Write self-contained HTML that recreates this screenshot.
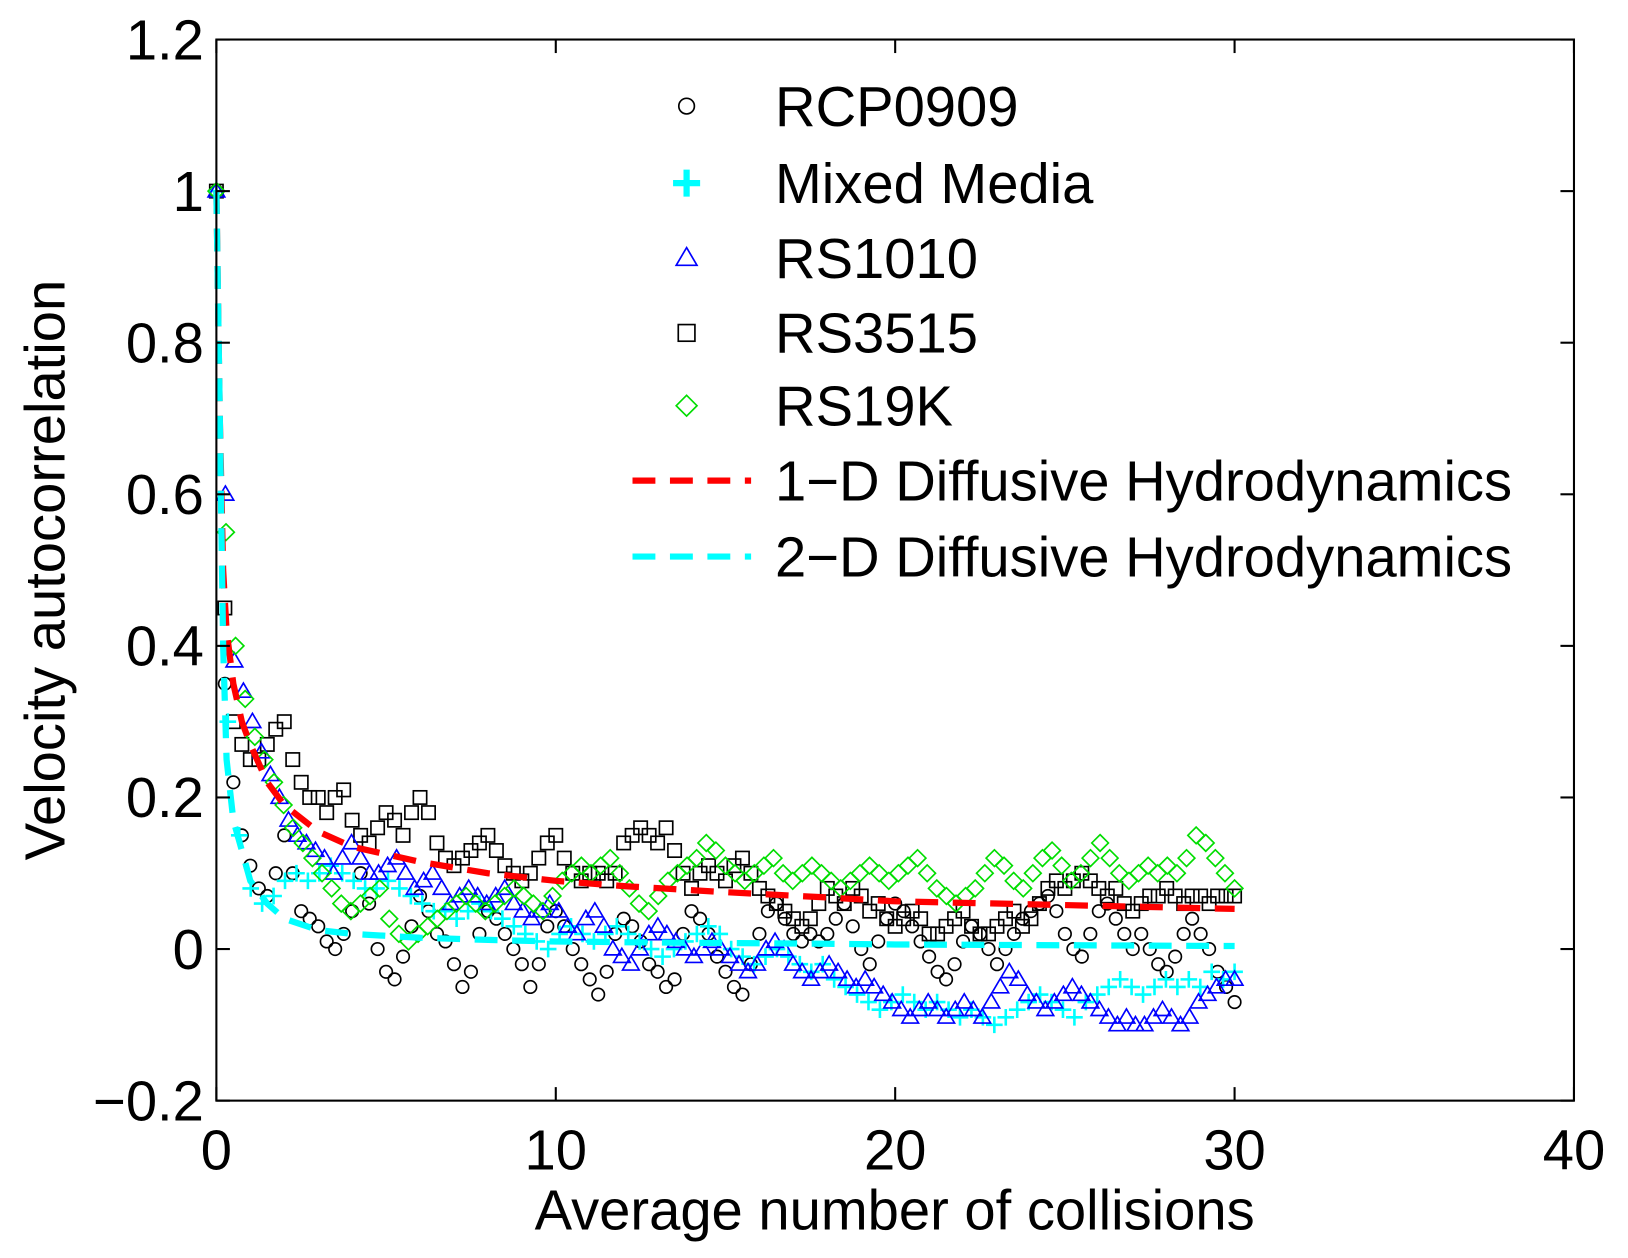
<!DOCTYPE html>
<html><head><meta charset="utf-8"><style>
html,body{margin:0;padding:0;background:#fff;}
svg{display:block;font-family:"Liberation Sans",Arial,sans-serif;}
</style></head><body>
<svg id="chart" width="1628" height="1258" viewBox="0 0 1628 1258" xmlns="http://www.w3.org/2000/svg">
<g transform="scale(1.0403)">
<g id="marks"></g>
<g id="axes"></g>
<g id="legend"></g>
</g>
</svg>
<script>
const xTicks=[0,10,20,30,40];
const yTicks=[-0.2,0,0.2,0.4,0.6,0.8,1,1.2];
const yTickLabels=["\u22120.2","0","0.2","0.4","0.6","0.8","1","1.2"];
const rcp0909=[1,0.35,0.22,0.15,0.11,0.08,0.07,0.1,0.15,0.1,0.05,0.04,0.03,0.01,0.0,0.02,0.05,0.1,0.06,0.0,-0.03,-0.04,-0.01,0.03,0.07,0.05,0.02,0.01,-0.02,-0.05,-0.03,0.02,0.05,0.04,0.02,0.0,-0.02,-0.05,-0.02,0.03,0.05,0.03,0.0,-0.02,-0.04,-0.06,-0.03,0.02,0.04,0.03,0.01,-0.02,-0.03,-0.05,-0.04,0.02,0.05,0.04,0.02,-0.01,-0.03,-0.05,-0.06,-0.02,0.02,0.05,0.06,0.04,0.02,0.01,0.02,0.01,0.02,0.04,0.06,0.03,0.0,-0.02,0.01,0.04,0.06,0.05,0.03,0.01,-0.01,-0.03,-0.04,-0.02,0.01,0.03,0.02,0.0,-0.02,0.0,0.02,0.04,0.05,0.06,0.07,0.05,0.02,0.0,-0.01,0.02,0.05,0.06,0.04,0.02,0.0,0.02,0.0,-0.02,-0.03,-0.01,0.02,0.04,0.02,0.0,-0.03,-0.05,-0.07];
const rs3515=[1,0.45,0.3,0.27,0.25,0.25,0.27,0.29,0.3,0.25,0.22,0.2,0.2,0.18,0.2,0.21,0.17,0.15,0.14,0.16,0.18,0.17,0.15,0.18,0.2,0.18,0.14,0.12,0.11,0.12,0.13,0.14,0.15,0.13,0.11,0.1,0.09,0.1,0.12,0.14,0.15,0.12,0.1,0.09,0.1,0.1,0.09,0.1,0.14,0.15,0.16,0.15,0.14,0.16,0.13,0.1,0.08,0.1,0.11,0.1,0.09,0.11,0.12,0.1,0.08,0.07,0.06,0.05,0.04,0.03,0.04,0.06,0.08,0.07,0.06,0.08,0.07,0.05,0.06,0.04,0.03,0.04,0.05,0.04,0.02,0.02,0.03,0.04,0.05,0.03,0.02,0.02,0.03,0.04,0.05,0.03,0.04,0.06,0.08,0.09,0.08,0.09,0.1,0.09,0.08,0.07,0.08,0.06,0.05,0.06,0.07,0.07,0.08,0.07,0.06,0.07,0.07,0.06,0.07,0.07,0.07];
const rs1010=[1,0.6,0.38,0.34,0.3,0.26,0.23,0.2,0.17,0.15,0.14,0.13,0.12,0.1,0.12,0.14,0.12,0.1,0.1,0.11,0.12,0.1,0.08,0.09,0.1,0.08,0.06,0.07,0.08,0.07,0.06,0.07,0.08,0.06,0.05,0.04,0.05,0.06,0.05,0.03,0.02,0.04,0.05,0.03,0.0,-0.01,-0.02,0.0,0.02,0.03,0.02,0.01,0.0,-0.01,0.0,0.01,0.0,-0.01,-0.02,-0.03,-0.02,0.0,0.01,0.0,-0.02,-0.03,-0.04,-0.03,-0.02,-0.03,-0.04,-0.05,-0.04,-0.05,-0.06,-0.07,-0.08,-0.09,-0.08,-0.07,-0.08,-0.09,-0.08,-0.07,-0.08,-0.09,-0.07,-0.05,-0.03,-0.04,-0.06,-0.07,-0.08,-0.07,-0.06,-0.05,-0.06,-0.07,-0.08,-0.09,-0.1,-0.09,-0.1,-0.1,-0.09,-0.08,-0.09,-0.1,-0.09,-0.07,-0.06,-0.05,-0.04,-0.04];
const mixedMedia=[1,0.3,0.15,0.08,0.06,0.07,0.09,0.1,0.09,0.1,0.11,0.1,0.09,0.08,0.08,0.09,0.08,0.07,0.06,0.05,0.05,0.04,0.05,0.06,0.05,0.04,0.03,0.02,0.01,0.0,0.02,0.03,0.02,0.01,0.02,0.03,0.02,0.01,0.0,-0.01,0.0,0.01,0.02,0.03,0.02,0.0,-0.01,-0.02,-0.01,0.0,-0.01,-0.02,-0.03,-0.02,-0.04,-0.05,-0.06,-0.07,-0.08,-0.07,-0.06,-0.07,-0.08,-0.07,-0.08,-0.09,-0.08,-0.09,-0.1,-0.09,-0.08,-0.07,-0.06,-0.07,-0.08,-0.09,-0.07,-0.06,-0.05,-0.04,-0.05,-0.06,-0.05,-0.04,-0.05,-0.04,-0.05,-0.03,-0.04,-0.03];
const rs19k=[1,0.55,0.4,0.33,0.28,0.25,0.22,0.19,0.16,0.14,0.12,0.1,0.08,0.06,0.05,0.06,0.07,0.08,0.04,0.02,0.01,0.02,0.03,0.04,0.05,0.06,0.07,0.06,0.05,0.06,0.07,0.08,0.07,0.06,0.05,0.07,0.09,0.1,0.11,0.1,0.11,0.12,0.1,0.08,0.06,0.05,0.07,0.09,0.1,0.11,0.12,0.14,0.13,0.11,0.1,0.09,0.1,0.11,0.12,0.1,0.09,0.1,0.11,0.1,0.09,0.08,0.09,0.1,0.11,0.1,0.09,0.1,0.11,0.12,0.1,0.08,0.07,0.06,0.07,0.08,0.1,0.12,0.11,0.09,0.08,0.1,0.12,0.13,0.11,0.09,0.1,0.12,0.14,0.12,0.1,0.09,0.1,0.11,0.1,0.11,0.1,0.12,0.15,0.14,0.12,0.1,0.08];
const modelX=[0,0.1,0.2,0.3,0.5,0.75,1,1.5,2,3,4,6,8,10,12,15,18,20,25,30];
const model1D=[1,0.7,0.5,0.42,0.35,0.3,0.27,0.22,0.19,0.155,0.135,0.115,0.1,0.09,0.083,0.075,0.068,0.063,0.058,0.053];
const model2D=[1,0.7,0.4,0.25,0.17,0.13,0.09,0.06,0.04,0.025,0.02,0.015,0.012,0.01,0.009,0.008,0.007,0.006,0.005,0.004];

const X0=208,X1=1513,Y0=1058,Y1=38;
const xs=v=>X0+(v-0)/40*(X1-X0);
const ys=v=>Y0-(v+0.2)/1.4*(Y0-Y1);
const NS="http://www.w3.org/2000/svg";
function mk(tag,attrs,parent){const e=document.createElementNS(NS,tag);for(const k in attrs)e.setAttribute(k,attrs[k]);parent.appendChild(e);return e;}
const marks=document.getElementById('marks'),axes=document.getElementById('axes'),legend=document.getElementById('legend');

function marker(type,cx,cy,parent,s){
  s=s||8;let e;
  if(type==='circle'){e=mk('circle',{cx,cy,r:s*0.75,fill:'none',stroke:'#000','stroke-width':1.6},parent);}
  else if(type==='square'){e=mk('rect',{x:cx-s*0.8,y:cy-s*0.8,width:s*1.6,height:s*1.6,fill:'none',stroke:'#000','stroke-width':1.6},parent);}
  else if(type==='triangle'){e=mk('path',{d:`M${cx},${cy-s} L${cx+s},${cy+s*0.7} L${cx-s},${cy+s*0.7}Z`,fill:'none',stroke:'#0000ff','stroke-width':1.6},parent);}
  else if(type==='diamond'){e=mk('path',{d:`M${cx},${cy-s} L${cx+s},${cy} L${cx},${cy+s} L${cx-s},${cy}Z`,fill:'none',stroke:'#00dd00','stroke-width':1.6},parent);}
  else {e=mk('path',{d:`M${cx-s},${cy} H${cx+s} M${cx},${cy-s} V${cy+s}`,fill:'none',stroke:'#00ffff','stroke-width':2.5},parent);}
  return e;
}
function drawSeries(vals,type,name){
  const g=mk('g',{},marks);
  
  
  const n=vals.length;
  for(let i=0;i<n;i++){
    const xv=i*30/(n-1);
    const m=marker(type,xs(xv),ys(vals[i]),g);
    
    
  }
}
function drawModel(vals,color,name){
  const d=vals.map((v,i)=>(i?'L':'M')+xs(modelX[i]).toFixed(1)+','+ys(v).toFixed(1)).join(' ');
  const p=mk('path',{d,fill:'none',stroke:color,'stroke-width':6,'stroke-dasharray':'22 14'},marks);
  
  
}
drawSeries(rcp0909,'circle','rcp0909-series');
drawSeries(rs3515,'square','rs3515-series');
drawSeries(mixedMedia,'plus','mixed-media-series');
drawSeries(rs1010,'triangle','rs1010-series');
drawSeries(rs19k,'diamond','rs19k-series');
drawModel(model1D,'#ff0000','model-1d-line');
drawModel(model2D,'#00ffff','model-2d-line');

const box=mk('rect',{x:X0,y:Y1,width:X1-X0,height:Y0-Y1,fill:'none',stroke:'#000','stroke-width':2},axes);


xTicks.forEach(t=>{
  const x=xs(t);
  mk('line',{x1:x,y1:Y0,x2:x,y2:Y0-13,stroke:'#000','stroke-width':2},axes);
  mk('line',{x1:x,y1:Y1,x2:x,y2:Y1+13,stroke:'#000','stroke-width':2},axes);
  const tx=mk('text',{x,y:Y0+66,'font-size':54,'text-anchor':'middle',fill:'#000'},axes);
  tx.textContent=String(t);
  
  
});
yTicks.forEach((t,i)=>{
  const y=ys(t);
  mk('line',{x1:X0,y1:y,x2:X0+13,y2:y,stroke:'#000','stroke-width':2},axes);
  mk('line',{x1:X1,y1:y,x2:X1-13,y2:y,stroke:'#000','stroke-width':2},axes);
  const tx=mk('text',{x:X0-12,y:y+19,'font-size':54,'text-anchor':'end',fill:'#000'},axes);
  tx.textContent=yTickLabels[i];
  
  
});
const xt=mk('text',{x:860,y:1182,'font-size':54,'text-anchor':'middle',fill:'#000'},axes);
xt.textContent='Average number of collisions';


const yt=mk('text',{x:0,y:0,'font-size':54,'text-anchor':'middle',fill:'#000',transform:'translate(62,548) rotate(-90)'},axes);
yt.textContent='Velocity autocorrelation';



const entries=[['circle','RCP0909',102],['plus','Mixed Media',176],['triangle','RS1010',248],['square','RS3515',320],['diamond','RS19K',390],['red','1\u2212D Diffusive Hydrodynamics',462],['cyan','2\u2212D Diffusive Hydrodynamics',535]];
entries.forEach(([type,label,y])=>{
  const g=mk('g',{},legend);
  
  
  if(type==='red'||type==='cyan'){
    mk('path',{d:`M608,${y} H722`,stroke:type==='red'?'#ff0000':'#00ffff','stroke-width':6,'stroke-dasharray':'22 14',fill:'none'},g);
  } else {
    if(type==='plus'){mk('path',{d:`M647,${y} H673 M660,${y-13} V${y+13}`,stroke:'#00ffff','stroke-width':6,fill:'none'},g);}
    else marker(type,660,y,g,10);
  }
  const t=mk('text',{x:745,y:y+19,'font-size':54,fill:'#000'},g);
  t.textContent=label;
});
</script>
</body></html>
